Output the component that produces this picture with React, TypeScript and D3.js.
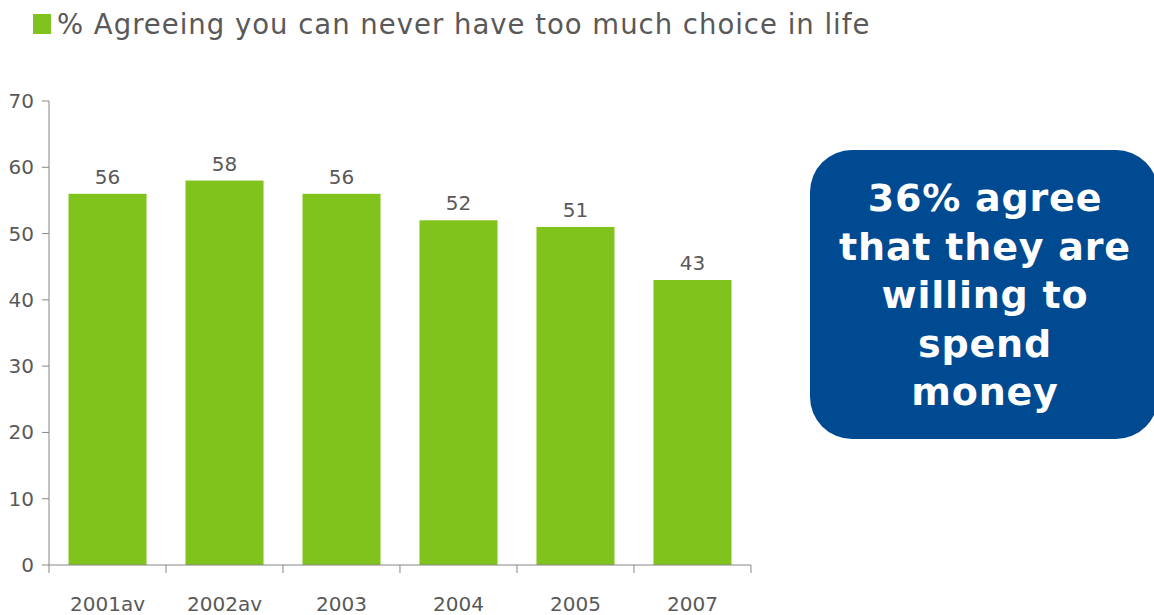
import { useEffect, useRef } from "react";
import * as d3 from "d3";

const years = ["2001av", "2002av", "2003", "2004", "2005", "2007"];
const agreeing = [56, 58, 56, 52, 51, 43];
const yTicks = [0, 10, 20, 30, 40, 50, 60, 70];
const legendLabel = "% Agreeing you can never have too much choice in life";
const calloutLines = ["36% agree", "that they are", "willing to", "spend", "money"];

export default function App() {
  const svgRef = useRef<SVGSVGElement>(null);

  useEffect(() => {
    if (!svgRef.current) return;
    const width = 1154;
    const height = 615;
    const font = "Verdana, 'DejaVu Sans', sans-serif";
    const textColor = "#595959";
    const axisColor = "#868686";
    const green = "#80c31c";

    const svg = d3.select(svgRef.current);
    svg.selectAll("*").remove();
    svg.attr("viewBox", `0 0 ${width} ${height}`);

    const left = 49;
    const right = 751;
    const top = 101;
    const bottom = 565;

    const x = d3.scaleBand<string>().domain(years).range([left, right]).paddingInner(0.333).paddingOuter(0.1667);
    const y = d3.scaleLinear().domain([0, 70]).range([bottom, top]);

    // legend
    svg.append("rect").attr("x", 33).attr("y", 14).attr("width", 18).attr("height", 20).attr("fill", green);
    svg.append("text")
      .attr("x", 57).attr("y", 34)
      .attr("font-family", font).attr("font-size", 27.5)
      .attr("letter-spacing", 1)
      .attr("fill", textColor)
      .text(legendLabel);

    // bars
    svg.selectAll("rect.bar")
      .data(agreeing)
      .enter()
      .append("rect")
      .attr("class", "bar")
      .attr("x", (_, i) => x(years[i])!)
      .attr("width", x.bandwidth())
      .attr("y", (d) => y(d))
      .attr("height", (d) => y(0) - y(d))
      .attr("fill", green);

    svg.selectAll("text.val")
      .data(agreeing)
      .enter()
      .append("text")
      .attr("class", "val")
      .attr("x", (_, i) => x(years[i])! + x.bandwidth() / 2)
      .attr("y", (d) => y(d) - 10)
      .attr("text-anchor", "middle")
      .attr("font-family", font).attr("font-size", 20)
      .attr("fill", textColor)
      .text((d) => d);

    // y axis
    const yAxis = svg.append("g");
    yAxis.append("line").attr("x1", left).attr("x2", left).attr("y1", top).attr("y2", bottom).attr("stroke", axisColor);
    yTicks.forEach((t) => {
      yAxis.append("line").attr("x1", left - 7).attr("x2", left).attr("y1", y(t)).attr("y2", y(t)).attr("stroke", axisColor);
      yAxis.append("text")
        .attr("x", 34).attr("y", y(t) + 7)
        .attr("text-anchor", "end")
        .attr("font-family", font).attr("font-size", 20)
        .attr("fill", textColor)
        .text(t);
    });

    // x axis
    const xAxis = svg.append("g");
    xAxis.append("line").attr("x1", left).attr("x2", right).attr("y1", bottom).attr("y2", bottom).attr("stroke", axisColor);
    const step = x.step();
    d3.range(years.length + 1).forEach((i) => {
      const xx = left + i * step;
      xAxis.append("line").attr("x1", xx).attr("x2", xx).attr("y1", bottom).attr("y2", bottom + 8).attr("stroke", axisColor);
    });
    years.forEach((yr) => {
      xAxis.append("text")
        .attr("x", x(yr)! + x.bandwidth() / 2)
        .attr("y", 611)
        .attr("text-anchor", "middle")
        .attr("font-family", font).attr("font-size", 20)
        .attr("fill", textColor)
        .text(yr);
    });

    // callout box
    svg.append("rect")
      .attr("x", 810).attr("y", 150)
      .attr("width", 348).attr("height", 289)
      .attr("rx", 42).attr("ry", 42)
      .attr("fill", "#004a92");
    svg.selectAll("text.callout")
      .data(calloutLines)
      .enter()
      .append("text")
      .attr("class", "callout")
      .attr("x", 985)
      .attr("y", (_, i) => 211 + i * 48.5)
      .attr("text-anchor", "middle")
      .attr("font-family", font).attr("font-size", 38).attr("font-weight", "bold")
      .attr("letter-spacing", 0.8)
      .attr("fill", "#ffffff")
      .text((d) => d);
  }, []);

  return (
    <div style={{ position: "absolute", left: 0, top: 0 }}>
      <svg ref={svgRef} width={1154} height={615} style={{ display: "block" }} />
    </div>
  );
}
